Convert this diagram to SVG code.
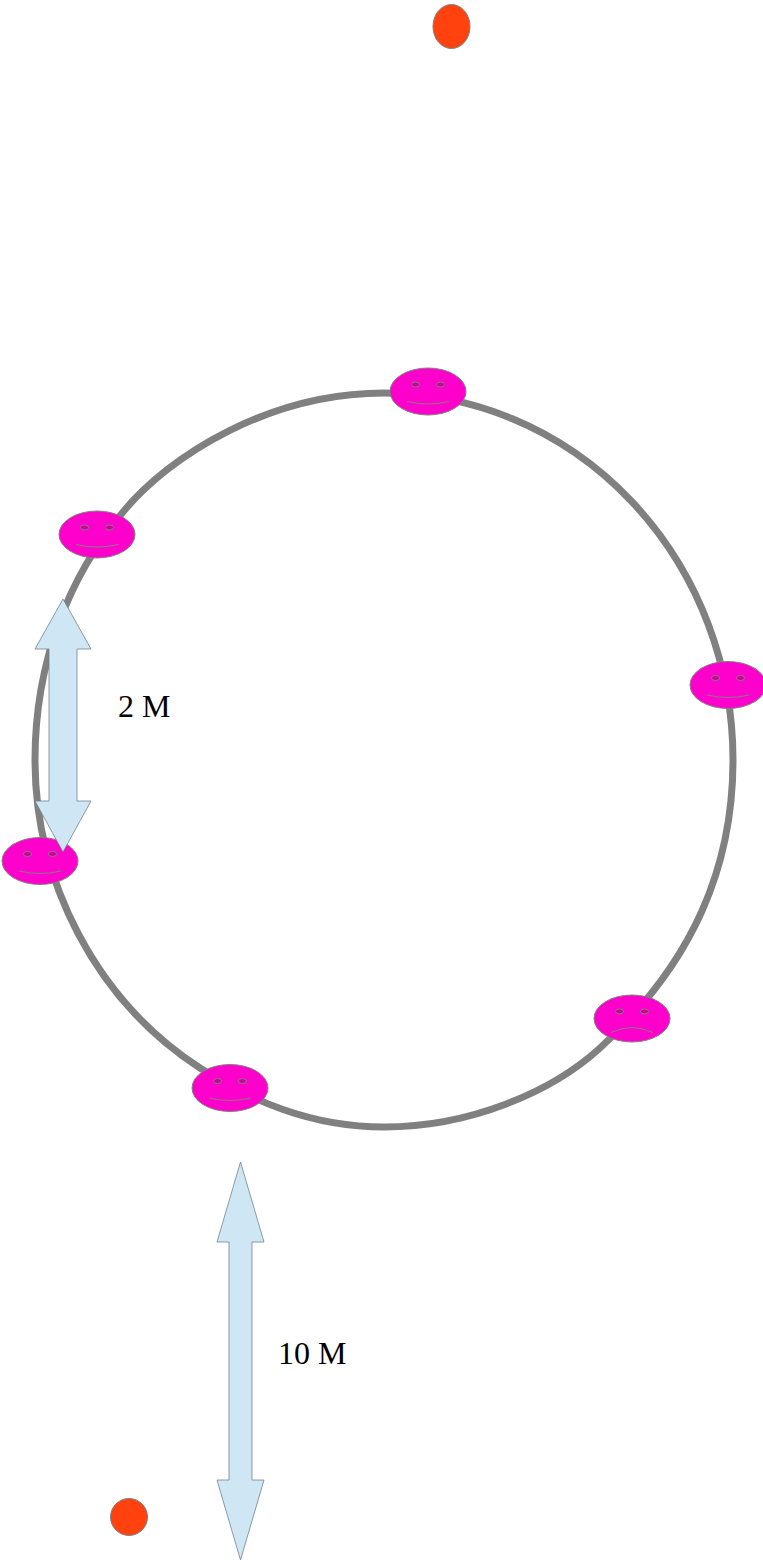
<svg xmlns="http://www.w3.org/2000/svg" xmlns:xlink="http://www.w3.org/1999/xlink" width="763" height="1563" viewBox="0 0 763 1563">
<style>
.ring{fill:none;stroke:#808080;stroke-width:7}
.head{fill:#ff00cc;stroke:#808080;stroke-width:1}
.eye{fill:#cc0099;stroke:#808080;stroke-width:1}
.mouth{fill:none;stroke:#808080;stroke-width:1}
.dot{fill:#ff420e;stroke:#808080;stroke-width:1}
.arrow{fill:#cfe7f5;stroke:#6b7b88;stroke-width:.75;stroke-linejoin:miter}
.label{font-family:"Liberation Serif",serif;font-size:32px;fill:#000}
</style>
<defs>
<g id="face"><ellipse class="head" cx="0" cy="0" rx="38" ry="23.500"/><ellipse class="eye" cx="-12.500" cy="-7" rx="4" ry="2.500"/><ellipse class="eye" cx="12.500" cy="-7" rx="4" ry="2.500"/></g>
</defs>
<g id="connectors"><path class="ring" d="M384 393A349 367 0 0 1 733 760C733 866 694 962 600 1048C552 1092 470 1127 384 1127C310 1127 250 1100 200 1068C95 1000 35 880 35 760C35 660 70 575 123 512C170 455 270 393 384 393Z"/></g>
<g id="face-top" transform="translate(428 391.500)"><use xlink:href="#face" href="#face"/><path class="mouth" d="M-21 10Q0 15 21 10"/></g>
<g id="face-upper-left" transform="translate(97 534.500)"><use xlink:href="#face" href="#face"/><path class="mouth" d="M-21 10Q0 15 21 10"/></g>
<g id="face-right" transform="translate(728 685)"><use xlink:href="#face" href="#face"/><path class="mouth" d="M-21 10Q0 15 21 10"/></g>
<g id="face-left" transform="translate(40 861)"><use xlink:href="#face" href="#face"/><path class="mouth" d="M-21 10Q0 15 21 10"/></g>
<g id="face-lower-right" transform="translate(632 1018.500)"><use xlink:href="#face" href="#face"/><path class="mouth" d="M-21 14Q0 4 21 14"/></g>
<g id="face-bottom" transform="translate(230 1088)"><use xlink:href="#face" href="#face"/><path class="mouth" d="M-21 10Q0 15 21 10"/></g>
<g id="arrow-2m"><path class="arrow" d="M63 599L91 649H77V801H91L63 852L35 801H49V649H35Z"/></g>
<g id="arrow-10m"><path class="arrow" d="M240.500 1162L264 1242H252V1480H264L240.500 1560L217 1480H229V1242H217Z"/></g>
<g id="dot-top"><ellipse class="dot" cx="451.500" cy="26.500" rx="18.500" ry="22"/></g>
<g id="dot-bottom"><circle class="dot" cx="129" cy="1517" r="18.500"/></g>
<text class="label" x="118" y="717">2 M</text>
<text class="label" x="278" y="1364">10 M</text>
</svg>
